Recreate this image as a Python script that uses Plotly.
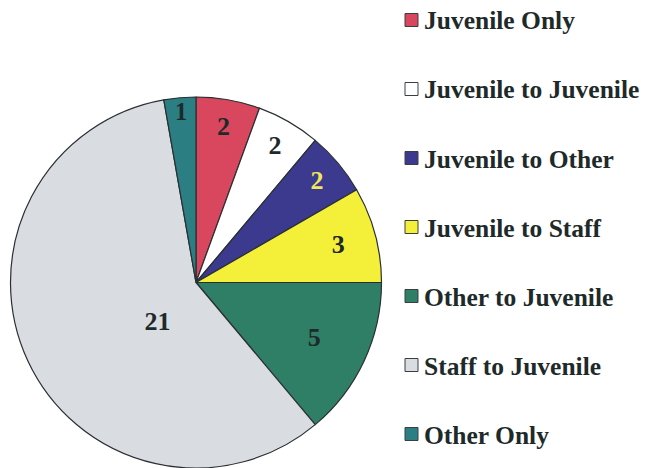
import plotly.graph_objects as go

# categories and counts
labels = ["Juvenile Only", "Juvenile to Juvenile", "Juvenile to Other",
          "Juvenile to Staff", "Other to Juvenile", "Staff to Juvenile", "Other Only"]
counts = [2, 2, 2, 3, 5, 21, 1]
colors = ["#D8475E", "#FFFFFF", "#3B3A8E", "#F4F03A", "#2F7F66", "#D9DCE0", "#2B7E82"]
text_colors = ["#1E2A2A", "#1E2A2A", "#F2E65A", "#1E2A2A", "#1E2A2A", "#1E2A2A", "#1E2A2A"]

W, H = 654, 468
serif = "Liberation Serif"

# nudge the big "21" label toward the centre like the original
pad = "\u00a0" * 14
slice_text = [str(c) for c in counts]
slice_text[5] = pad + slice_text[5]


def px_x(x):
    return x / W


def px_y(y):
    return min(1, max(0, 1 - y / H))


fig = go.Figure(go.Pie(
    labels=labels,
    values=counts,
    text=slice_text,
    sort=False,
    direction="clockwise",
    rotation=0,
    marker=dict(colors=colors, line=dict(color="#2A2F33", width=1.2)),
    texttemplate="<b>%{text}</b>",
    textposition="inside",
    insidetextorientation="horizontal",
    textfont=dict(family=serif, size=26, color=text_colors),
    domain=dict(x=[px_x(10), px_x(382)], y=[px_y(469), px_y(97)]),
    showlegend=False,
    hoverinfo="label+value",
))

# legend built by hand so the rows can be spaced like the original
row_top = 20
row_gap = 69
for i, (lab, col) in enumerate(zip(labels, colors)):
    yc = row_top + i * row_gap
    fig.add_shape(type="rect", xref="paper", yref="paper",
                  x0=px_x(405), x1=px_x(418), y0=px_y(yc + 6.5), y1=px_y(yc - 6.5),
                  fillcolor=col, line=dict(color="#3A3F44", width=1))
    fig.add_annotation(x=px_x(422), y=px_y(yc + 1), xref="paper", yref="paper",
                       text="<b>" + lab + "</b>", showarrow=False, xanchor="left", yanchor="middle",
                       font=dict(family=serif, size=25.5, color="#1E2A2A"))

fig.update_layout(
    width=W, height=H,
    margin=dict(l=0, r=0, t=0, b=0),
    paper_bgcolor="white",
    plot_bgcolor="white",
)

# drop the default page margin so the figure sits at the window corner
fig.write_html("out.html", config={"displayModeBar": False},
               post_script="document.body.style.margin='0';")
